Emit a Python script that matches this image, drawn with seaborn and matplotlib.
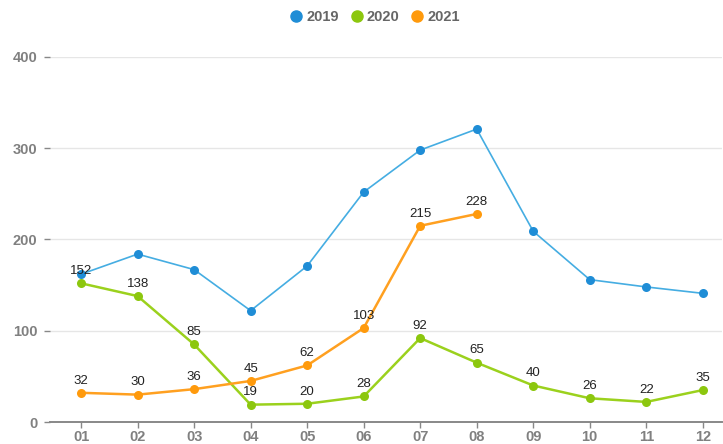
import matplotlib
matplotlib.use("Agg")
import matplotlib.pyplot as plt
from matplotlib.lines import Line2D
import seaborn as sns
import pandas as pd

months = ["01", "02", "03", "04", "05", "06", "07", "08", "09", "10", "11", "12"]
sales_2019 = [162, 184, 167, 122, 171, 252, 298, 321, 209, 156, 148, 141]
sales_2020 = [152, 138, 85, 19, 20, 28, 92, 65, 40, 26, 22, 35]
sales_2021 = [32, 30, 36, 45, 62, 103, 215, 228]
years = ["2019", "2020", "2021"]
y_ticks = [0, 100, 200, 300, 400]

marker_colors = {"2019": "#1f8dd6", "2020": "#8cc70e", "2021": "#ff9a0c"}
line_colors = {"2019": "#45ade2", "2020": "#9bd11d", "2021": "#ffa020"}
line_widths = {"2019": 1.2, "2020": 1.8, "2021": 1.8}
show_labels = {"2019": False, "2020": True, "2021": True}

sns.set_theme(style="white")
plt.rcParams["font.family"] = ["Liberation Sans", "DejaVu Sans"]

series = {"2019": sales_2019, "2020": sales_2020, "2021": sales_2021}

fig = plt.figure(figsize=(7.23, 4.44), dpi=100)
ax = fig.add_axes([50 / 723, 22 / 444, 672 / 723, 365 / 444])

for yr in years:
    vals = series[yr]
    df = pd.DataFrame({"pos": list(range(len(vals))), "value": vals})
    sns.lineplot(data=df, x="pos", y="value", ax=ax, color=line_colors[yr],
                 linewidth=line_widths[yr], marker="o", markersize=6.5,
                 markerfacecolor=marker_colors[yr], markeredgecolor=marker_colors[yr],
                 markeredgewidth=0, zorder=3, clip_on=False)
    if show_labels[yr]:
        for i, v in enumerate(vals):
            ax.annotate(str(v), (i, v), xytext=(0, 4.5), textcoords="offset points",
                        ha="center", va="bottom", fontsize=9.5, color="#222222",
                        zorder=5)

ax.set_xlim(-0.55, 11.34)
ax.set_ylim(0, 400)
ax.set_xticks(range(len(months)))
ax.set_xticklabels(months)
ax.set_yticks(y_ticks)
ax.set_yticklabels([str(t) for t in y_ticks])
ax.set_xlabel("")
ax.set_ylabel("")

ax.grid(axis="y", color="#e6e6e6", linewidth=1)
ax.grid(axis="x", visible=False)
for side in ["top", "right", "left"]:
    ax.spines[side].set_visible(False)
ax.spines["bottom"].set_color("#888888")
ax.spines["bottom"].set_linewidth(1.4)
ax.spines["bottom"].set_zorder(4)

ax.tick_params(axis="x", direction="out", length=4, width=1, color="#888888",
               pad=1.5, labelsize=10.5, labelcolor="#808080", bottom=True)
ax.tick_params(axis="y", direction="out", length=4, width=1, color="#888888",
               pad=5, labelsize=10.5, labelcolor="#808080", left=True)
for lbl in ax.get_xticklabels() + ax.get_yticklabels():
    lbl.set_fontweight("bold")

handles = [Line2D([0], [0], marker="o", linestyle="none", markersize=8,
                  markerfacecolor=marker_colors[y], markeredgecolor=marker_colors[y])
           for y in years]
leg = fig.legend(handles, years, loc="center", bbox_to_anchor=(0.518, 0.962),
                 ncol=3, frameon=False, handletextpad=0.2, columnspacing=0.7,
                 handlelength=1.0, prop={"size": 10.5, "weight": "bold"})
for t in leg.get_texts():
    t.set_color("#666666")

fig.savefig("out.png", dpi=100)
